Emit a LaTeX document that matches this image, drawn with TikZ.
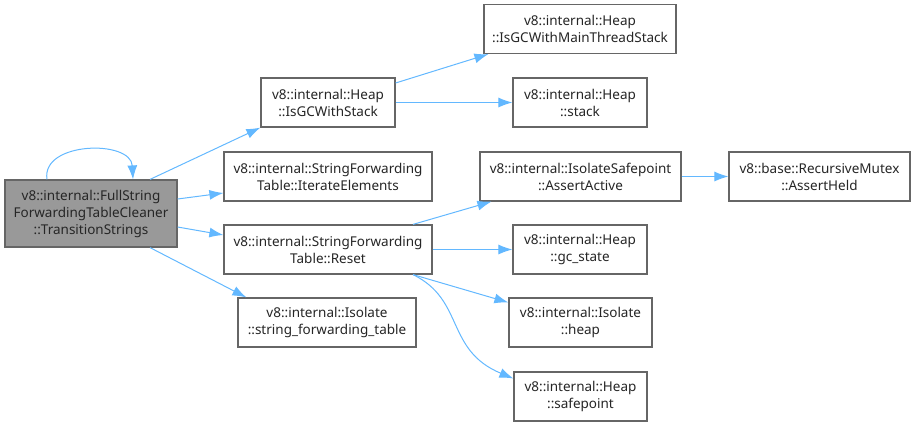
\documentclass[tikz,border=0pt]{standalone}
\usepackage{fontspec}
\setmainfont{Noto Sans}
\usetikzlibrary{arrows.meta}
\definecolor{edgec}{HTML}{63B8FF}
\definecolor{bordc}{HTML}{666666}
\definecolor{mainc}{HTML}{999999}
\begin{document}
\begin{tikzpicture}[x=1pt,y=-1pt,
  box/.style={draw=bordc, line width=1.2pt, fill=white, align=center, inner sep=0pt,
    font=\fontsize{13.5}{17}\selectfont, text=black!85, minimum height=49pt},
  mainbox/.style={box, fill=mainc, minimum height=67pt},
  edge/.style={draw=edgec, line width=1pt, -{Latex[length=14pt,width=10pt]}}]
\useasboundingbox (0,0) rectangle (915,426);
\node[mainbox, minimum width=172pt] (main) at (91,213.5) {v8::internal::FullString\\ForwardingTableCleaner\\::TransitionStrings};
\node[box, minimum width=134pt] (isgc) at (328,102.5) {v8::internal::Heap\\::IsGCWithStack};
\node[box, minimum width=192pt] (mts) at (580,29) {v8::internal::Heap\\::IsGCWithMainThreadStack};
\node[box, minimum width=134pt] (stack) at (580,102.5) {v8::internal::Heap\\::stack};
\node[box, minimum width=208pt] (iter) at (328,176.5) {v8::internal::StringForwarding\\Table::IterateElements};
\node[box, minimum width=208pt] (reset) at (328,249.5) {v8::internal::StringForwarding\\Table::Reset};
\node[box, minimum width=178pt] (sft) at (327,322.5) {v8::internal::Isolate\\::string\_forwarding\_table};
\node[box, minimum width=201pt] (aa) at (580.5,176.5) {v8::internal::IsolateSafepoint\\::AssertActive};
\node[box, minimum width=134pt] (gcs) at (580,249.5) {v8::internal::Heap\\::gc\_state};
\node[box, minimum width=143pt] (heap) at (580.5,322.5) {v8::internal::Isolate\\::heap};
\node[box, minimum width=133pt] (sp) at (580.5,396.5) {v8::internal::Heap\\::safepoint};
\node[box, minimum width=181pt] (ah) at (819.5,176.5) {v8::base::RecursiveMutex\\::AssertHeld};

\draw[edge] ([xshift=-44pt]main.north) .. controls +(-6,-38) and +(-2,-40) .. ([xshift=42pt]main.north);
\draw[edge] ([xshift=59pt]main.north) -- (isgc.south west);
\draw[edge] ([yshift=14.5pt]main.east) -- ([yshift=-16.5pt]iter.west);
\draw[edge] ([yshift=-13.5pt]main.east) -- ([yshift=14.5pt]reset.west);
\draw[edge] ([xshift=59pt]main.south) -- ([xshift=9pt]sft.north west);
\draw[edge] ([yshift=19.5pt]isgc.east) -- ([xshift=5pt]mts.south west);
\draw[edge] (isgc.east) -- (stack.west);
\draw[edge] ([xshift=85pt]reset.north) -- ([xshift=12pt]aa.south west);
\draw[edge] (reset.east) -- (gcs.west);
\draw[edge] ([xshift=85pt]reset.south) -- ([yshift=20pt]heap.west);
\draw[edge] ([xshift=85pt]reset.south) .. controls (465,300) and (445,350) .. ([yshift=18pt]sp.west);
\draw[edge] (aa.east) -- (ah.west);
\end{tikzpicture}
\end{document}
